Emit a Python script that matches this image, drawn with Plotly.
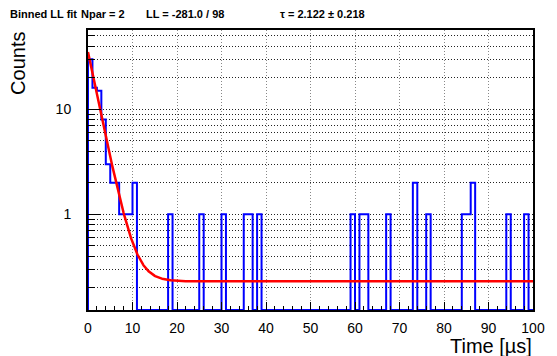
import numpy as np
import plotly.graph_objects as go

# Decay-time histogram: 100 bins of 1 µs from 0 to 100 µs
bin_lo, bin_hi, n_bins = 0.0, 100.0, 100
counts = np.zeros(n_bins)
early_counts = [30, 16, 15, 8, 3, 2, 2, 1, 1, 1, 2]          # bins 0..10
counts[:len(early_counts)] = early_counts
late_bins = [18, 25, 30, 35, 36, 38, 59, 61, 62, 67, 73, 76, 84, 85, 86, 94, 98]
late_counts = [1, 1, 1, 1, 1, 1, 1, 1, 1, 1, 2, 1, 1, 1, 2, 1, 1]
for b, c in zip(late_bins, late_counts):
    counts[b] = c

# Fit result: A*exp(-t/tau) + B
tau = 2.122
tau_err = 0.218
fit_amp = 34.8
fit_bkg = 0.23
ll_value = -281.0
ndf = 98
npar = 2

x_ticks = list(range(0, 101, 10))

# Axis ranges (log10 for y)
y_log_min, y_log_max = -0.911, 1.755
floor = 10 ** y_log_min

W, H = 557, 356
ML, MR, MT, MB = 88, 15, 30, 46
PW, PH = W - ML - MR, H - MT - MB


def paper(px, py):
    return (px - ML) / PW, (H - MB - py) / PH


edges = np.linspace(bin_lo, bin_hi, n_bins + 1)
shown = np.where(counts > 0, counts, floor)
hx = [edges[0]] + list(edges[:-1]) + [edges[-1], edges[-1]]
hy = [floor] + list(shown) + [shown[-1], floor]

t = np.linspace(bin_lo, bin_hi, 1200)
f = fit_amp * np.exp(-t / tau) + fit_bkg

fig = go.Figure()
fig.add_trace(go.Scatter(x=hx, y=hy, mode="lines", line_shape="hv",
                         line=dict(color="#0000ff", width=2), hoverinfo="skip"))
fig.add_trace(go.Scatter(x=t, y=f, mode="lines",
                         line=dict(color="#ff0000", width=2.5), hoverinfo="skip"))

tick_font = dict(family="Liberation Sans, Arial, sans-serif", size=14, color="black")

fig.update_layout(
    width=W, height=H,
    margin=dict(l=ML, r=MR, t=MT, b=MB, pad=0),
    paper_bgcolor="white", plot_bgcolor="white",
    showlegend=False,
    xaxis=dict(
        range=[bin_lo, bin_hi], tickvals=x_ticks, ticktext=[str(v) for v in x_ticks],
        ticks="inside", ticklen=8, tickwidth=1, tickcolor="black",
        showline=True, linecolor="black", linewidth=2, mirror=True,
        showgrid=True, gridcolor="#888888", griddash="1px,2px", gridwidth=1,
        zeroline=False, tickfont=tick_font, ticklabelstandoff=4,
        minor=dict(dtick=2, ticks="inside", ticklen=4, tickwidth=1,
                   tickcolor="black", showgrid=False),
    ),
    yaxis=dict(
        type="log", range=[y_log_min, y_log_max],
        tickvals=[1, 10], ticktext=["1", "10"],
        ticks="inside", ticklen=13, tickwidth=1, tickcolor="black",
        showline=True, linecolor="black", linewidth=2, mirror=True,
        showgrid=True, gridcolor="#222222", griddash="1px,2px", gridwidth=1,
        zeroline=False, tickfont=tick_font, ticklabelstandoff=12,
        minor=dict(tickvals=[0.2, 0.3, 0.4, 0.5, 0.6, 0.7, 0.8, 0.9,
                             2, 3, 4, 5, 6, 7, 8, 9, 20, 30, 40, 50],
                   ticks="inside", ticklen=7, tickwidth=1, tickcolor="black",
                   showgrid=True, gridcolor="#222222", griddash="1px,2px",
                   gridwidth=1),
    ),
)

bold = dict(family="Liberation Sans, Arial, sans-serif", size=11, color="black",
            weight="bold")
header = [
    (7, "Binned LL fit"),
    (80, f"Npar = {npar}"),
    (146, f"LL = {ll_value:.1f} / {ndf}"),
    (283, f"τ = {tau:.3f} ± {tau_err:.3f}"),
]
for px, txt in header:
    ax, ay = paper(px, 14)
    fig.add_annotation(x=ax, y=ay, xref="paper", yref="paper", text=txt,
                       showarrow=False, xanchor="left", yanchor="middle",
                       borderpad=0, font=bold)

title_font = dict(family="Liberation Sans, Arial, sans-serif", size=20, color="black")
ax, ay = paper(543, 346)
fig.add_annotation(x=ax, y=ay, xref="paper", yref="paper", text="Time [µs]",
                   showarrow=False, xanchor="right", yanchor="middle", font=title_font)
ax, ay = paper(16, 30)
fig.add_annotation(x=ax, y=ay, xref="paper", yref="paper", text="Counts",
                   textangle=-90, showarrow=False, xanchor="center", yanchor="top",
                   font=title_font)

fig.write_html("out.html")
